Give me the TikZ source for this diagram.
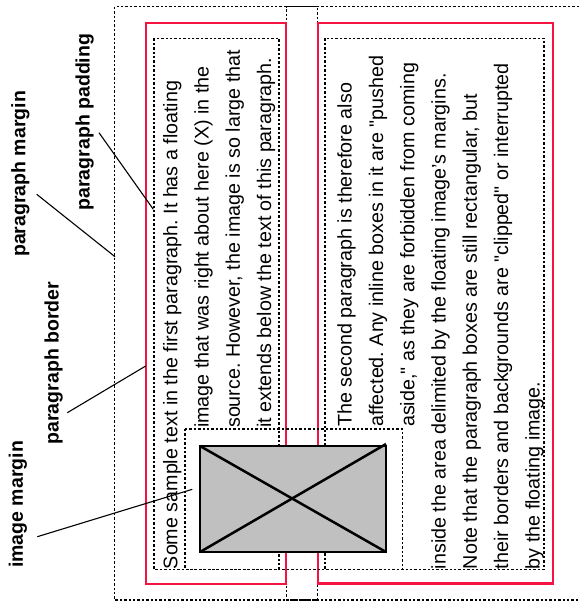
\documentclass[tikz,border=0pt]{standalone}
\usepackage{fontspec}
\setmainfont{Liberation Sans}[Ligatures=TeXOff]
\definecolor{bred}{RGB}{245,20,65}
\definecolor{imgrey}{RGB}{192,192,192}
\frenchspacing
\begin{document}
\begin{tikzpicture}[x=1pt,y=-1pt,
  marginbox/.style={draw, line width=1.1pt, dash pattern=on 2.4pt off 2pt},
  borderbox/.style={draw=bred, line width=2.4pt},
  paraline/.style={font=\fontsize{19.7}{20}\selectfont, rotate=90, anchor=base west, inner sep=0pt},
  lbl/.style={font=\bfseries\fontsize{19.5}{20}\selectfont, rotate=90, anchor=base west, inner sep=0pt},
  leader/.style={draw, line width=1.1pt},
  imgbox/.style={draw, fill=imgrey, line width=2.5pt}]
\useasboundingbox (0,0) rectangle (579,603);
% margin boxes
\draw[marginbox] (114.7,6.7) rectangle (317.7,600);
\draw[marginbox] (579,6.7) -- (286.7,6.7) -- (286.7,600) -- (579,600);
% borders
\draw[borderbox] (145.7,22.7) rectangle (285.7,584);
\draw[borderbox] (317.7,22.7) rectangle (552.7,583.5);
% padding boxes
\draw[marginbox] (154,38.3) rectangle (279,569.3);
\draw[marginbox] (325,38.3) rectangle (544,569.3);
% paragraph 1 text
\node[paraline] (p1a) at (177.3,569.3) {Some sample text in the first paragraph. It has a floating};
\node[paraline] (p1b) at (208.6,428) {image that was right about here (X) in the};
\node[paraline] (p1c) at (239.9,428) {source. However, the image is so large that};
\node[paraline] (p1d) at (271.2,428) {it extends below the text of this paragraph.};
% paragraph 2 text
\node[paraline] (p2a) at (351.7,427) {The second paragraph is therefore also};
\node[paraline] (p2b) at (383,427) {affected. Any inline boxes in it are "pushed};
\node[paraline] (p2c) at (414.3,427) {aside," as they are forbidden from coming};
\node[paraline] (p2d) at (445.6,569.3) {inside the area delimited by the floating image’s margins.};
\node[paraline] (p2e) at (476.9,569.3) {Note that the paragraph boxes are still rectangular, but};
\node[paraline] (p2f) at (508.2,569.3) {their borders and backgrounds are "clipped" or interrupted};
\node[paraline] (p2g) at (539.5,569.3) {by the floating image.};
% image margin and image
\draw[marginbox] (185,429) rectangle (402.3,569.3);
\draw[imgbox] (200,446) rectangle (386,552);
\coordinate (imtl) at (200,446);
\coordinate (imbr) at (386,552);
\coordinate (imbl) at (200,552);
\coordinate (imtr) at (386,444);
\draw[line width=2.5pt] (imtl) -- (imbr);
\draw[line width=2.5pt] (imbl) -- (imtr);
% labels
\node[lbl] (lmargin) at (25.3,257) {paragraph margin};
\node[lbl] (lpadding) at (89.5,210.6) {paragraph padding};
\node[lbl] (lborder) at (58.5,444.6) {paragraph border};
\node[lbl] (limage) at (22.8,568) {image margin};
% leader lines
\coordinate (m1) at (36.7,194.3); \coordinate (m2) at (115,256.7);
\coordinate (d1) at (99,132.7); \coordinate (d2) at (153.3,209.3);
\coordinate (b1) at (67.3,412.7); \coordinate (b2) at (145.7,366);
\coordinate (i1) at (37.3,536.7); \coordinate (i2) at (192.3,489.3);
\draw[leader] (m1) -- (m2);
\draw[leader] (d1) -- (d2);
\draw[leader] (b1) -- (b2);
\draw[leader] (i1) -- (i2);
\end{tikzpicture}
\end{document}
